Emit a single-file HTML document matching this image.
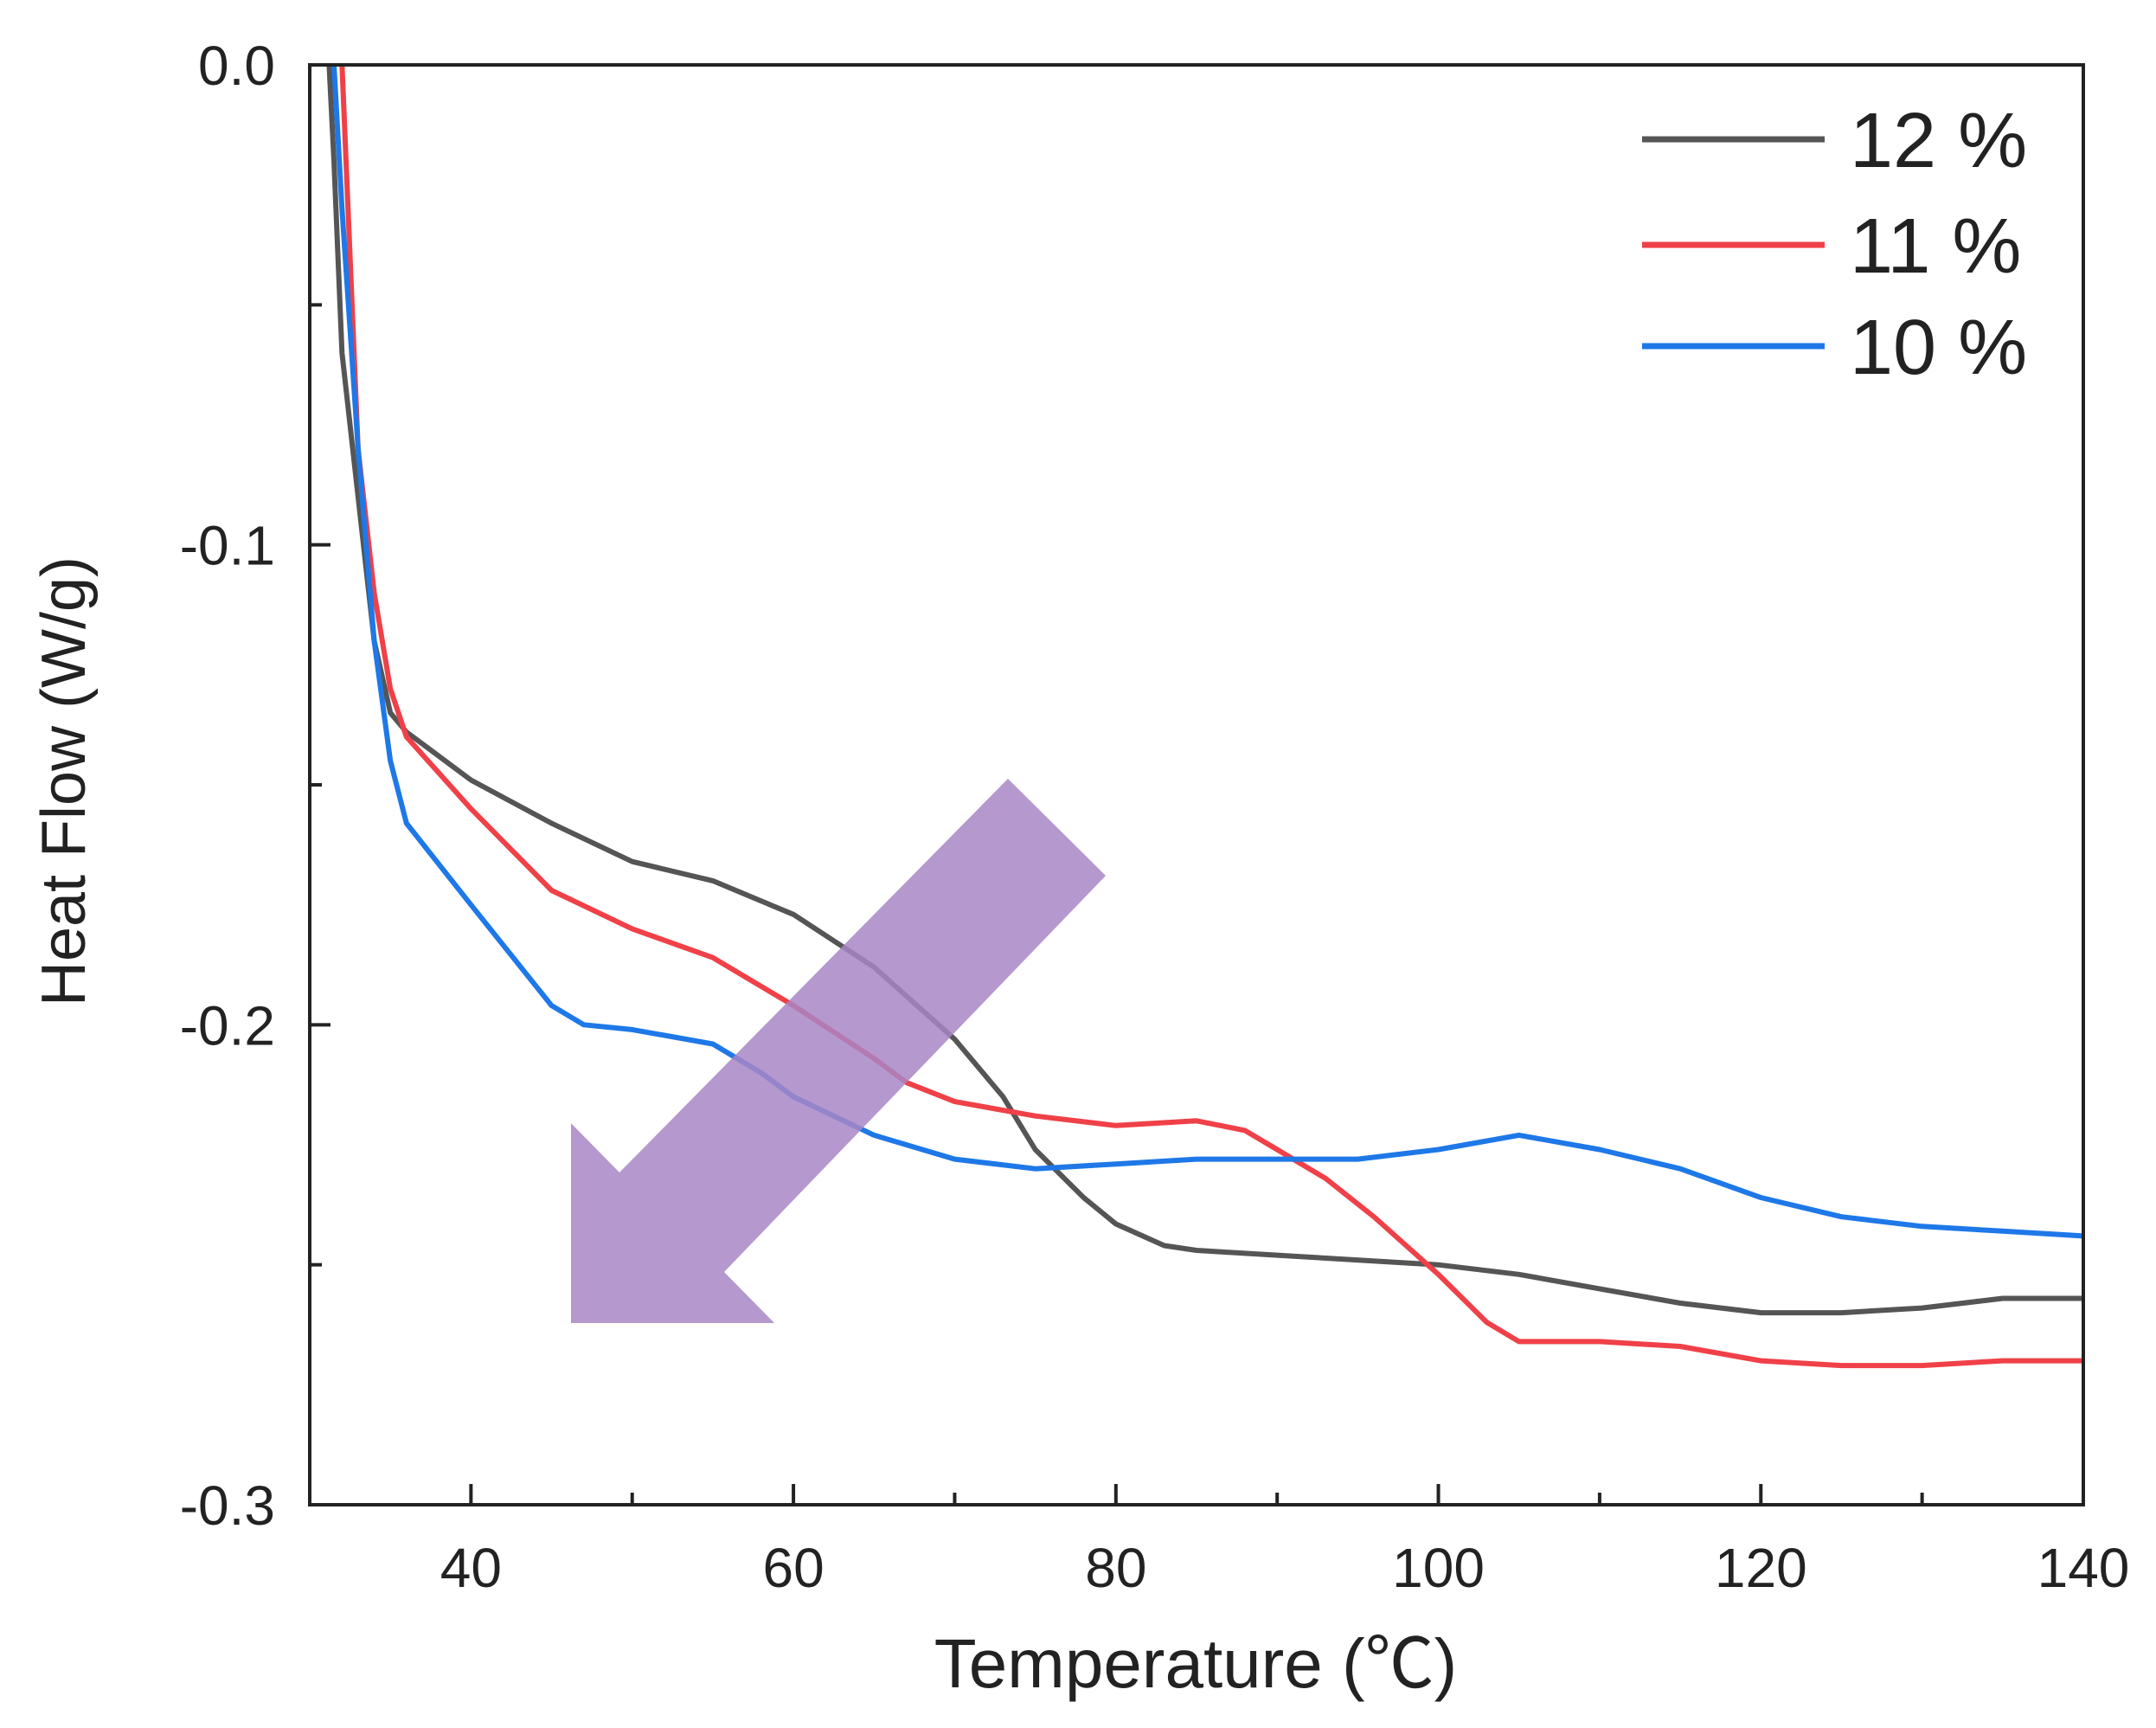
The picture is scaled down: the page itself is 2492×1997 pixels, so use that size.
<!DOCTYPE html>
<html><head><meta charset="utf-8"><style>
html,body{margin:0;padding:0;background:#fff}
svg{display:block}
text{font-family:"Liberation Sans","Noto Sans CJK SC",sans-serif;fill:#222}
</style></head><body>
<svg id="chart" width="2492" height="1997" viewBox="0 0 2492 1997" xmlns="http://www.w3.org/2000/svg">
<g id="series"></g>
<polygon points="1165,900 1278,1012 837,1470 895,1529 660,1529 660,1298 716,1355" fill="#a886c6" fill-opacity="0.85"/>
<g id="axes"></g>
<g>
<g><line x1="1898" y1="161" x2="2109" y2="161" stroke="#555" stroke-width="7"/><text x="2138" y="193" font-size="90">12 %</text></g>
<g><line x1="1898" y1="283" x2="2109" y2="283" stroke="#f04048" stroke-width="7"/><text x="2138" y="315" font-size="90">11 %</text></g>
<g><line x1="1898" y1="400" x2="2109" y2="400" stroke="#1e78e8" stroke-width="7"/><text x="2138" y="432" font-size="90">10 %</text></g>
</g>
<text x="1382" y="1950" font-size="80" text-anchor="middle">Temperature (℃)</text>
<text transform="translate(98,903) rotate(-90)" font-size="72" text-anchor="middle">Heat Flow (W/g)</text>
</svg>
<script>
const xTicks=[40,60,80,100,120,140];
const xMinor=[50,70,90,110,130];
const yTicks=[0,-0.1,-0.2,-0.3];
const yTickLabels=["0.0","-0.1","-0.2","-0.3"];
const yMinor=[-0.05,-0.15,-0.25];
const t12=[31.2,31.5,32,33,34,35,36,40,45,50,55,60,65,70,73,75,78,80,83,85,90,100,105,110,115,120,125,130,135,140];
const v12=[0,-0.02,-0.06,-0.09,-0.12,-0.135,-0.139,-0.149,-0.158,-0.166,-0.170,-0.177,-0.188,-0.203,-0.215,-0.226,-0.236,-0.2415,-0.246,-0.247,-0.248,-0.25,-0.252,-0.255,-0.258,-0.260,-0.260,-0.259,-0.257,-0.257];
const t11=[32,32.5,33,34,35,36,40,45,50,55,60,65,67,70,75,80,85,88,90,93,96,100,103,105,110,115,120,125,130,135,140];
const v11=[0,-0.04,-0.08,-0.11,-0.13,-0.14,-0.155,-0.172,-0.18,-0.186,-0.196,-0.207,-0.212,-0.216,-0.219,-0.221,-0.220,-0.222,-0.226,-0.232,-0.24,-0.252,-0.262,-0.266,-0.266,-0.267,-0.270,-0.271,-0.271,-0.270,-0.270];
const t10=[31.5,32,33,34,35,36,40,45,47,50,55,58,60,65,70,75,80,85,90,95,100,105,110,115,120,125,130,135,140];
const v10=[0,-0.03,-0.08,-0.12,-0.145,-0.158,-0.175,-0.196,-0.200,-0.201,-0.204,-0.210,-0.215,-0.223,-0.228,-0.230,-0.229,-0.228,-0.228,-0.228,-0.226,-0.223,-0.226,-0.230,-0.236,-0.240,-0.242,-0.243,-0.244];
const edgeRedT=[30,30];const edgeRedV=[-0.02,-0.18];
const edgeBlueT=[30,30];const edgeBlueV=[0,-0.024];
const X0=358,X1=2408,Y0=75,Y1=1739;
function xs(t){return X0+(t-30)/(140-30)*(X1-X0);}
function ys(v){return Y0+(0-v)/0.3*(Y1-Y0);}
const NS="http://www.w3.org/2000/svg";
const sg=document.getElementById('series');
function line(ts,vs,color,w,name){
  const p=document.createElementNS(NS,'polyline');
  p.setAttribute('points',ts.map((t,i)=>xs(t).toFixed(1)+','+ys(vs[i]).toFixed(1)).join(' '));
  p.setAttribute('fill','none');p.setAttribute('stroke',color);p.setAttribute('stroke-width',w);p.setAttribute('stroke-linejoin','round');
  
  
  sg.appendChild(p);
}
line(edgeRedT,edgeRedV,'#f04048',3,'series-11-edge');
line(edgeBlueT,edgeBlueV,'#1e78e8',3,'series-10-edge');
line(t12,v12,'#555',6,'series-12-percent');
line(t11,v11,'#f04048',6,'series-11-percent');
line(t10,v10,'#1e78e8',6,'series-10-percent');
const ax=document.getElementById('axes');
function el(tag,attrs,txt){const e=document.createElementNS(NS,tag);for(const k in attrs)e.setAttribute(k,attrs[k]);if(txt!==undefined)e.textContent=txt;ax.appendChild(e);return e;}
const fr=el('rect',{x:X0,y:Y0,width:X1-X0,height:Y1-Y0,fill:'none',stroke:'#222','stroke-width':4});


xTicks.forEach(t=>{
  const l=el('line',{x1:xs(t),x2:xs(t),y1:Y1,y2:Y1-24,stroke:'#222','stroke-width':4});
  
  
  const tx=el('text',{x:xs(t),y:1834,'font-size':64,'text-anchor':'middle'},String(t));
  
  
});
xMinor.forEach(t=>{
  const l=el('line',{x1:xs(t),x2:xs(t),y1:Y1,y2:Y1-14,stroke:'#222','stroke-width':4});
  
  
});
yTicks.forEach((v,i)=>{
  const l=el('line',{x1:X0,x2:X0+24,y1:ys(v),y2:ys(v),stroke:'#222','stroke-width':4});
  
  
  const tx=el('text',{x:318,y:ys(v)+23,'font-size':64,'text-anchor':'end'},yTickLabels[i]);
  
  
});
yMinor.forEach(v=>{
  const l=el('line',{x1:X0,x2:X0+14,y1:ys(v),y2:ys(v),stroke:'#222','stroke-width':4});
  
  
});
</script>
</body></html>
